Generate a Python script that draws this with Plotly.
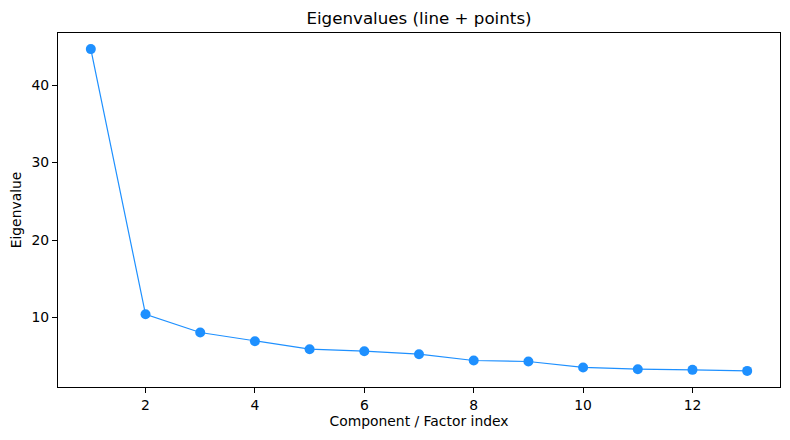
import plotly.graph_objects as go

components = list(range(1, 14))
eigenvalues = [44.64, 10.42, 8.07, 6.95, 5.92, 5.66, 5.27, 4.46, 4.33, 3.56, 3.34, 3.25, 3.12]
x_ticks = [2, 4, 6, 8, 10, 12]
y_ticks = [10, 20, 30, 40]

FONT = "DejaVu Sans"

fig = go.Figure()
fig.add_trace(go.Scatter(
    x=components, y=eigenvalues, mode="lines+markers",
    line=dict(color="#1E90FF", width=1.2),
    marker=dict(color="#1E90FF", size=10),
    showlegend=False,
))

axis_common = dict(
    showline=True, linecolor="black", linewidth=1, mirror=True,
    ticks="outside", ticklen=5, tickcolor="black", tickwidth=1,
    showgrid=False, zeroline=False,
    tickfont=dict(family=FONT, size=13.9, color="black"),
)

fig.update_layout(
    width=790, height=440,
    margin=dict(l=57.5, r=10, t=32.5, b=53),
    paper_bgcolor="white", plot_bgcolor="white",
    title=dict(text="Eigenvalues (line + points)", xref="paper", x=0.5, xanchor="center",
               y=1 - 18/440, yanchor="middle",
               font=dict(family=FONT, size=16.7, color="black")),
    xaxis=dict(range=[0.4, 13.6], tickvals=x_ticks,
               title=dict(text="Component / Factor index", standoff=4,
                          font=dict(family=FONT, size=13.9, color="black")),
               **axis_common),
    yaxis=dict(range=[1.04, 46.72], tickvals=y_ticks,
               title=dict(text="Eigenvalue", standoff=6,
                          font=dict(family=FONT, size=13.9, color="black")),
               **axis_common),
)

fig.write_html("out.html", config={"displayModeBar": False},
               post_script="document.body.style.margin='0';")
